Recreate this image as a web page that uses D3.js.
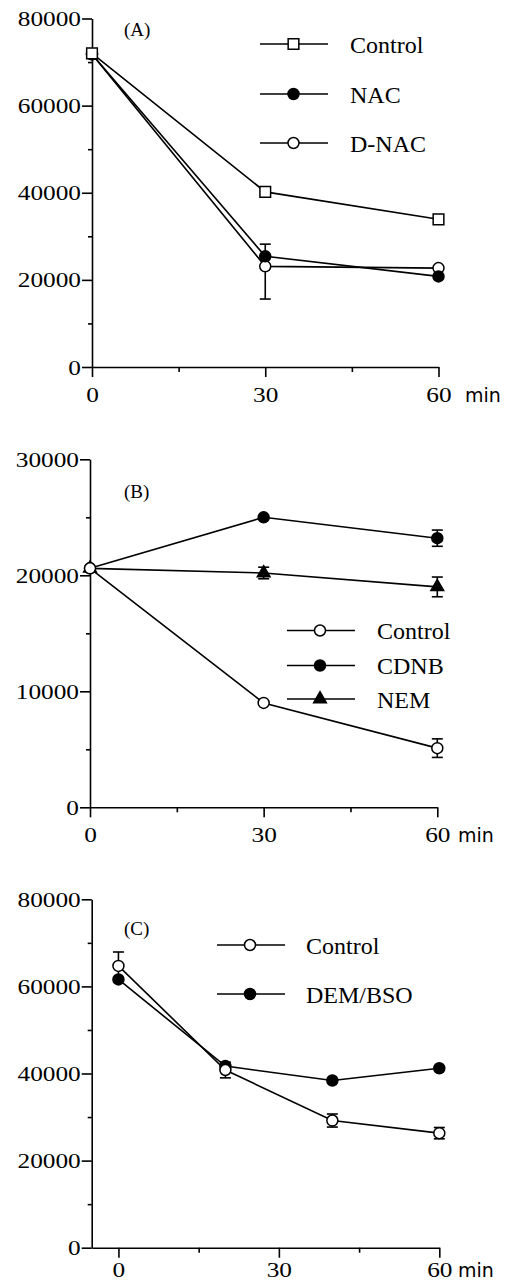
<!DOCTYPE html>
<html>
<head>
<meta charset="utf-8">
<script src="https://cdn.jsdelivr.net/npm/d3@7"></script>
<style>
  body { margin: 0; background: #fff; }
  svg { display: block; }
</style>
</head>
<body>
<svg id="chart" width="513" height="1283"></svg>
<script>
// ---- panel A ----
const timesA = [0, 30, 60];
const controlA = [72000, 40200, 33900];
const nacA = [71800, 25400, 20800];
const nacUpA = [0, 2800, 0];
const dnacA = [71800, 23100, 22700];
const dnacDownA = [0, 7500, 0];
const yTicksA = [0, 20000, 40000, 60000, 80000];
const yMinorA = [10000, 30000, 50000, 70000];

// ---- panel B ----
const timesB = [0, 30, 60];
const controlB = [20600, 9000, 5100];
const controlErrB = [0, 0, 800];
const cdnbB = [20600, 25000, 23200];
const cdnbErrB = [0, 0, 700];
const nemB = [20600, 20200, 19000];
const nemErrB = [0, 500, 850];
const yTicksB = [0, 10000, 20000, 30000];
const yMinorB = [5000, 15000, 25000];

// ---- panel C ----
const timesC = [0, 20, 40, 60];
const controlC = [64700, 40800, 29200, 26300];
const controlErrC = [3200, 1800, 1500, 1300];
const demC = [61600, 41700, 38400, 41200];
const yTicksC = [0, 20000, 40000, 60000, 80000];
const yMinorC = [10000, 30000, 50000, 70000];

const xTicks = [0, 30, 60];
const xMinor = [15, 45];

const svg = d3.select("#chart");
const serif = "'Liberation Serif', 'Times New Roman', serif";
const stretch = 1.15;  // tick digits in the original are a bit wide

function marker(g, type, x, y) {
    const sizes = { square: 114, open: 95, filled: 95, triangle: 70 };
    const shape = type === "square" ? d3.symbolSquare
        : type === "triangle" ? d3.symbolTriangle : d3.symbolCircle;
    g.append("path")
        .attr("d", d3.symbol().type(shape).size(sizes[type])())
        .attr("transform", `translate(${x},${y})`)
        .attr("fill", (type === "filled" || type === "triangle") ? "#000" : "#fff")
        .attr("stroke", "#000")
        .attr("stroke-width", 1.5);
}

function drawPanel(p) {
    const g = svg.append("g");
    const x = d3.scaleLinear().domain(p.xDomain).range(p.xRange);
    const y = d3.scaleLinear().domain(p.yDomain).range(p.yRange);
    const y0 = p.yRange[0];

    // axes
    const yAxis = g.append("g").attr("transform", `translate(${p.xRange[0]},0)`)
        .call(d3.axisLeft(y).tickValues(p.yTicks).tickSize(10).tickSizeOuter(0).tickPadding(1).tickFormat(d3.format("d")));
    g.append("g").attr("transform", `translate(${p.xRange[0]},0)`)
        .call(d3.axisLeft(y).tickValues(p.yMinor).tickSize(4).tickFormat(""))
        .call(a => a.select(".domain").remove());
    const xAxis = g.append("g").attr("transform", `translate(0,${y0})`)
        .call(d3.axisBottom(x).tickValues(xTicks).tickSize(10).tickSizeOuter(0).tickPadding(p.xPad).tickFormat(d3.format("d")));
    g.append("g").attr("transform", `translate(0,${y0})`)
        .call(d3.axisBottom(x).tickValues(xMinor).tickSize(5).tickFormat(""))
        .call(a => a.select(".domain").remove());

    g.selectAll(".domain, .tick line").attr("stroke", "#000").attr("stroke-width", 1.6);
    g.selectAll(".tick text").attr("fill", "#000")
        .style("font-family", serif).style("font-size", "22px");
    yAxis.selectAll(".tick text")
        .attr("x", -11 / stretch)
        .attr("transform", `scale(${stretch},1)`);
    xAxis.selectAll(".tick text").attr("transform", `scale(${stretch},1)`);
    // "min" after the last x label
    g.append("text")
        .attr("x", p.minX).attr("y", y0 + p.xPad + 25.5)
        .style("font-family", "'DejaVu Sans', sans-serif").style("font-size", "19px")
        .text("min");

    // panel label
    g.append("text").attr("x", 124).attr("y", p.labelY)
        .style("font-family", serif).style("font-size", "19px")
        .text(p.label);

    const line = d3.line().x(d => x(d[0])).y(d => y(d[1]));
    const series = p.series.slice().reverse();

    series.forEach(s => {
        const pts = s.times.map((t, i) => [t, s.values[i]]);
        g.append("path").datum(pts).attr("d", line)
            .attr("fill", "none").attr("stroke", "#000").attr("stroke-width", 1.6);
    });
    series.forEach(s => {
        s.times.forEach((t, i) => {
            const up = s.errUp ? s.errUp[i] : 0;
            const dn = s.errDown ? s.errDown[i] : 0;
            if (!up && !dn) return;
            const cx = x(t), top = y(s.values[i] + up), bot = y(s.values[i] - dn);
            g.append("line").attr("x1", cx).attr("x2", cx).attr("y1", top).attr("y2", bot)
                .attr("stroke", "#000").attr("stroke-width", 1.6);
            [[up, top], [dn, bot]].forEach(([e, yy]) => {
                if (!e) return;
                g.append("line").attr("x1", cx - 5.5).attr("x2", cx + 5.5).attr("y1", yy).attr("y2", yy)
                    .attr("stroke", "#000").attr("stroke-width", 1.6);
            });
        });
    });
    series.forEach(s => {
        s.times.forEach((t, i) => marker(g, s.marker, x(t), y(s.values[i])));
    });

    // legend
    const L = p.legend;
    p.series.forEach((s, i) => {
        const ly = L.ys[i];
        g.append("line").attr("x1", L.x0).attr("x2", L.x1).attr("y1", ly).attr("y2", ly)
            .attr("stroke", "#000").attr("stroke-width", 1.6);
        marker(g, s.marker, L.mx, ly);
        g.append("text").attr("x", L.tx).attr("y", ly + 8.5)
            .style("font-family", serif).style("font-size", "24px")
            .text(s.name);
    });
}

drawPanel({
    label: "(A)", labelY: 36,
    xDomain: [0, 60], xRange: [92, 438.5],
    yDomain: [0, 80000], yRange: [367, 18.5],
    yTicks: yTicksA, yMinor: yMinorA, minX: 465, xPad: 9,
    series: [
        { name: "Control", times: timesA, values: controlA, marker: "square" },
        { name: "NAC", times: timesA, values: nacA, errUp: nacUpA, marker: "filled" },
        { name: "D-NAC", times: timesA, values: dnacA, errDown: dnacDownA, marker: "open" }
    ],
    legend: { x0: 260, x1: 328, mx: 293.5, tx: 350, ys: [44, 94, 143] }
});

drawPanel({
    label: "(B)", labelY: 497.5,
    xDomain: [0, 60], xRange: [90, 437.3],
    yDomain: [0, 30000], yRange: [807.3, 459.3],
    yTicks: yTicksB, yMinor: yMinorB, minX: 458, xPad: 9,
    series: [
        { name: "Control", times: timesB, values: controlB, errUp: controlErrB, errDown: controlErrB, marker: "open" },
        { name: "CDNB", times: timesB, values: cdnbB, errUp: cdnbErrB, errDown: cdnbErrB, marker: "filled" },
        { name: "NEM", times: timesB, values: nemB, errUp: nemErrB, errDown: nemErrB, marker: "triangle" }
    ],
    legend: { x0: 287, x1: 355, mx: 320, tx: 377, ys: [630.5, 665.5, 699] }
});

drawPanel({
    label: "(C)", labelY: 935,
    xDomain: [-5, 60], xRange: [91.7, 439.3],
    yDomain: [0, 80000], yRange: [1247.7, 899.3],
    yTicks: yTicksC, yMinor: yMinorC, minX: 458, xPad: 3.5,
    series: [
        { name: "Control", times: timesC, values: controlC, errUp: controlErrC, errDown: controlErrC, marker: "open" },
        { name: "DEM/BSO", times: timesC, values: demC, marker: "filled" }
    ],
    legend: { x0: 217, x1: 285, mx: 250, tx: 306, ys: [945, 994] }
});
</script>
</body>
</html>
